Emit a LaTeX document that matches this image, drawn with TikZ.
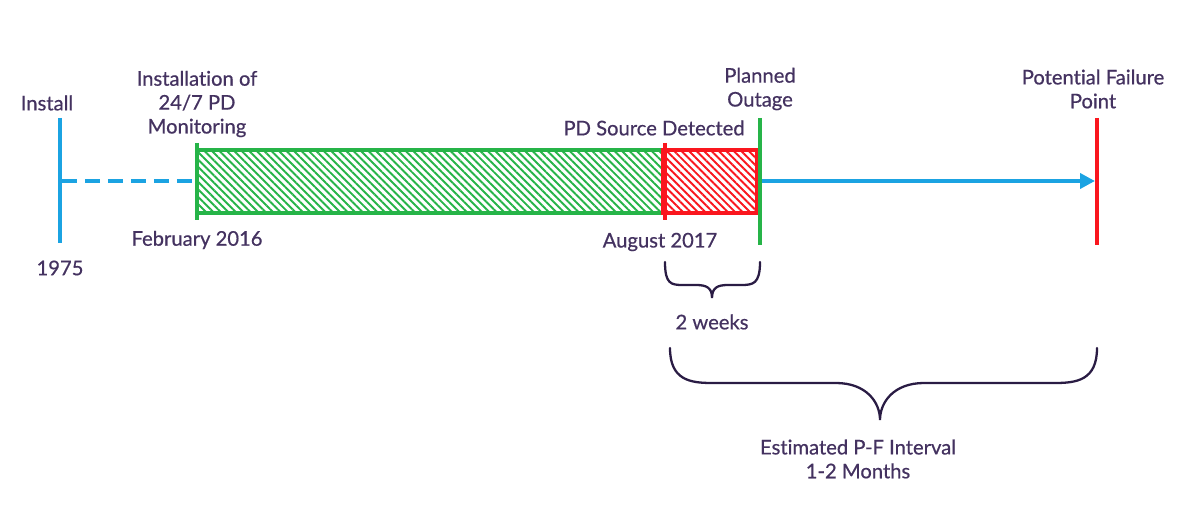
\documentclass[tikz,border=0pt]{standalone}
\usepackage{fontspec}
\setmainfont{Lato}[Ligatures=NoCommon]
\newfontfamily\lblfont{Lato}[Ligatures=NoCommon, FakeBold=0.6]
\usetikzlibrary{patterns.meta,arrows.meta}
\definecolor{tblue}{RGB}{27,163,226}
\definecolor{tgreen}{RGB}{38,180,72}
\definecolor{tred}{RGB}{250,22,30}
\definecolor{ttext}{RGB}{68,50,96}
\definecolor{tbrace}{RGB}{42,28,68}
\begin{document}
\begin{tikzpicture}[x=0.02cm,y=-0.02cm,
  lbl/.style={font=\lblfont\fontsize{11.5}{13.6}\selectfont, text=ttext, align=center, inner sep=0pt},
  tickline/.style={line width=2.3pt, line cap=butt},
  boxline/.style={line width=2pt},
  bracepath/.style={draw=tbrace, line width=1.3pt, line cap=round},
  timeline/.style={draw=tblue, line width=2.3pt}]
\useasboundingbox (0,0) rectangle (1200,513);

% boxes
\draw[boxline, draw=tgreen, pattern={Lines[angle=-45,distance=3pt,line width=1.1pt]}, pattern color=tgreen]
  (197,150) rectangle (663,213);
\draw[boxline, draw=tred, pattern={Lines[angle=-45,distance=3pt,line width=1.1pt]}, pattern color=tred]
  (663,150) rectangle (757,213);

% named tick ends
\coordinate (instT) at (60,118);   \coordinate (instB) at (60,243);  \coordinate (instM) at (60,181);
\coordinate (monT) at (197,143);   \coordinate (monB) at (197,220);  \coordinate (monM) at (197,181);
\coordinate (pdT) at (665,143);    \coordinate (pdB) at (665,220);
\coordinate (poT) at (760,118);    \coordinate (poB) at (760,245);   \coordinate (poM) at (760,181);
\coordinate (pfT) at (1097,118);   \coordinate (pfB) at (1097,245);  \coordinate (pfM) at (1097,181);

% connectors
\draw[timeline, dash pattern=on 0.31cm off 0.15cm] ([xshift=0.04cm]instM) -- ([xshift=-0.04cm]monM);
\draw[timeline, -{Triangle[length=0.3cm,width=0.3cm]}] ([xshift=0.04cm]poM) -- ([xshift=-0.04cm]pfM);

% ticks
\draw[tickline, tblue] (instT) -- (instB);
\draw[tickline, tgreen] (monT) -- (monB);
\draw[tickline, tred] (pdT) -- (pdB);
\draw[tickline, tgreen] (poT) -- (poB);
\draw[tickline, tred] (pfT) -- (pfB);

% labels
\node[lbl] (linstall) at (47,103) {Install};
\node[lbl] (l1975) at (60,268) {1975};
\node[lbl] (lmon) at (197,104) {Installation of\\24/7 PD\\Monitoring};
\node[lbl] (lfeb) at (197,240) {February 2016};
\node[lbl] (lpd) at (654,128) {PD Source Detected};
\node[lbl] (laug) at (660,242) {August 2017};
\node[lbl] (lpo) at (760,89) {Planned\\Outage};
\node[lbl] (lpf) at (1093,89) {Potential Failure\\Point};
\node[lbl] (lweeks) at (712,322) {2 weeks};
\node[lbl] (lpf2) at (858,459) {Estimated P-F Interval\\1-2 Months};

% braces
\coordinate (sbL) at (665,262); \coordinate (sbR) at (760,262); \coordinate (sbTip) at (712,298);
\draw[bracepath] (sbL) .. controls +(0,22) and +(-12,0) .. (683,285) -- (696,285)
  .. controls +(11,0) and +(0,-10) .. (sbTip)
  .. controls +(0,-10) and +(-11,0) .. (728,285) -- (741,285)
  .. controls +(12,0) and +(0,22) .. (sbR);
\coordinate (bbL) at (670,348); \coordinate (bbR) at (1097,348); \coordinate (bbTip) at (880,420);
\draw[bracepath] (bbL) .. controls +(0,32) and +(-22,0) .. (712,383) -- (836,383)
  .. controls +(30,0) and +(0,-18) .. (bbTip)
  .. controls +(0,-18) and +(-30,0) .. (924,383) -- (1055,383)
  .. controls +(22,0) and +(0,32) .. (bbR);
\end{tikzpicture}
\end{document}
